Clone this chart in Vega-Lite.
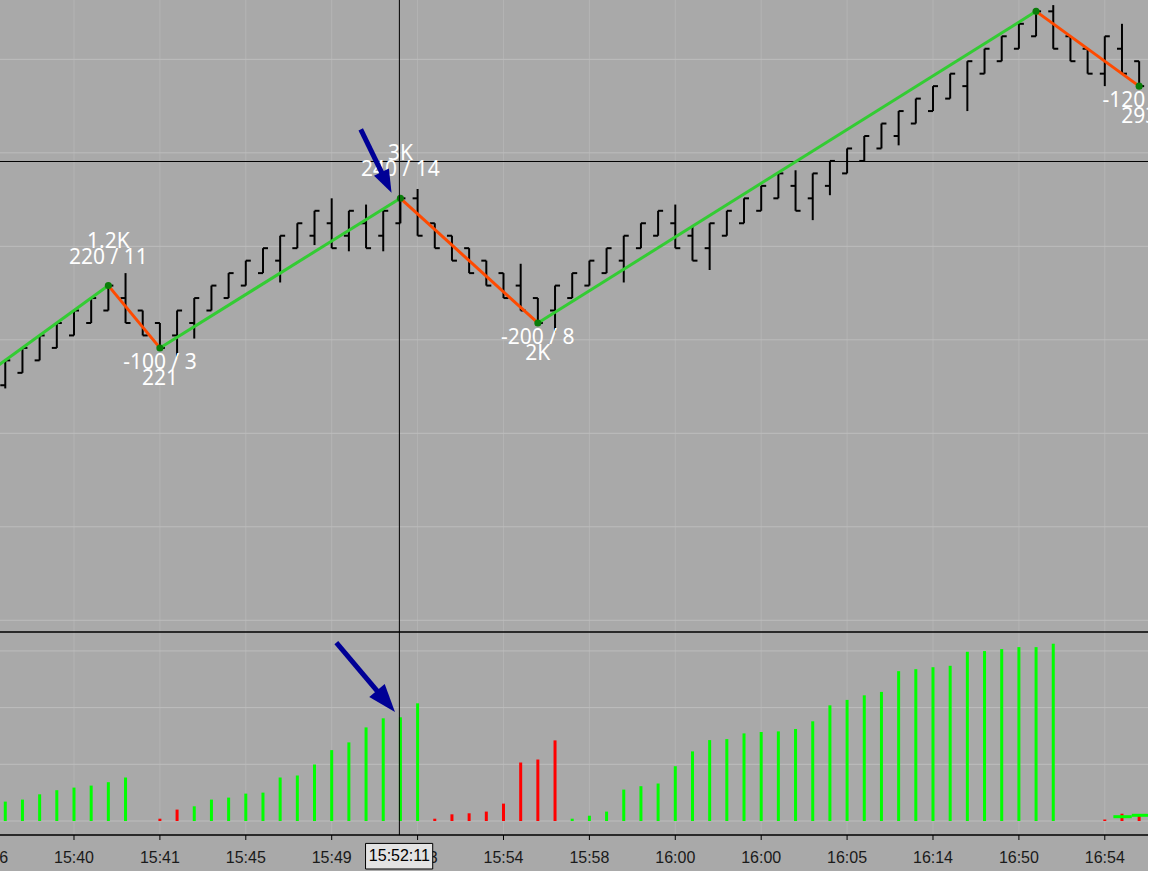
{
  "$schema": "https://vega.github.io/schema/vega-lite/v6.json",
  "width": 1148,
  "height": 835,
  "autosize": {"type": "none"},
  "padding": {"left": 0, "top": 0, "right": 0, "bottom": 36},
  "background": "#a9a9a9",
  "config": {
    "view": {"stroke": null},
    "font": "Liberation Sans"
  },
  "datasets": {
    "ohlc": [
      {"i": 0, "o": 380, "h": 420, "l": 375, "c": 420},
      {"i": 1, "o": 400, "h": 440, "l": 400, "c": 440},
      {"i": 2, "o": 420, "h": 460, "l": 420, "c": 460},
      {"i": 3, "o": 440, "h": 480, "l": 440, "c": 480},
      {"i": 4, "o": 460, "h": 500, "l": 460, "c": 500},
      {"i": 5, "o": 480, "h": 520, "l": 480, "c": 520},
      {"i": 6, "o": 500, "h": 540, "l": 500, "c": 540},
      {"i": 7, "o": 520, "h": 560, "l": 480, "c": 480},
      {"i": 8, "o": 500, "h": 500, "l": 460, "c": 460},
      {"i": 9, "o": 480, "h": 480, "l": 440, "c": 440},
      {"i": 10, "o": 460, "h": 500, "l": 425, "c": 500},
      {"i": 11, "o": 480, "h": 520, "l": 455, "c": 520},
      {"i": 12, "o": 500, "h": 540, "l": 500, "c": 540},
      {"i": 13, "o": 520, "h": 560, "l": 520, "c": 560},
      {"i": 14, "o": 540, "h": 580, "l": 540, "c": 580},
      {"i": 15, "o": 560, "h": 600, "l": 560, "c": 600},
      {"i": 16, "o": 580, "h": 620, "l": 545, "c": 620},
      {"i": 17, "o": 600, "h": 640, "l": 600, "c": 640},
      {"i": 18, "o": 620, "h": 660, "l": 605, "c": 660},
      {"i": 19, "o": 640, "h": 680, "l": 600, "c": 600},
      {"i": 20, "o": 620, "h": 660, "l": 595, "c": 660},
      {"i": 21, "o": 640, "h": 670, "l": 600, "c": 600},
      {"i": 22, "o": 620, "h": 660, "l": 595, "c": 660},
      {"i": 23, "o": 640, "h": 685, "l": 640, "c": 680},
      {"i": 24, "o": 680, "h": 695, "l": 620, "c": 620},
      {"i": 25, "o": 640, "h": 640, "l": 600, "c": 600},
      {"i": 26, "o": 620, "h": 620, "l": 580, "c": 580},
      {"i": 27, "o": 600, "h": 600, "l": 560, "c": 560},
      {"i": 28, "o": 580, "h": 580, "l": 540, "c": 540},
      {"i": 29, "o": 560, "h": 560, "l": 520, "c": 520},
      {"i": 30, "o": 540, "h": 575, "l": 500, "c": 500},
      {"i": 31, "o": 520, "h": 520, "l": 480, "c": 480},
      {"i": 32, "o": 500, "h": 540, "l": 465, "c": 540},
      {"i": 33, "o": 520, "h": 560, "l": 520, "c": 560},
      {"i": 34, "o": 540, "h": 580, "l": 540, "c": 580},
      {"i": 35, "o": 560, "h": 600, "l": 560, "c": 600},
      {"i": 36, "o": 580, "h": 620, "l": 545, "c": 620},
      {"i": 37, "o": 600, "h": 640, "l": 600, "c": 640},
      {"i": 38, "o": 620, "h": 660, "l": 620, "c": 660},
      {"i": 39, "o": 640, "h": 670, "l": 600, "c": 600},
      {"i": 40, "o": 620, "h": 635, "l": 580, "c": 580},
      {"i": 41, "o": 600, "h": 640, "l": 565, "c": 640},
      {"i": 42, "o": 620, "h": 660, "l": 620, "c": 660},
      {"i": 43, "o": 640, "h": 680, "l": 640, "c": 680},
      {"i": 44, "o": 660, "h": 700, "l": 660, "c": 700},
      {"i": 45, "o": 680, "h": 720, "l": 680, "c": 720},
      {"i": 46, "o": 700, "h": 725, "l": 660, "c": 660},
      {"i": 47, "o": 680, "h": 720, "l": 645, "c": 720},
      {"i": 48, "o": 700, "h": 740, "l": 685, "c": 740},
      {"i": 49, "o": 720, "h": 760, "l": 720, "c": 760},
      {"i": 50, "o": 740, "h": 780, "l": 740, "c": 780},
      {"i": 51, "o": 760, "h": 800, "l": 760, "c": 800},
      {"i": 52, "o": 780, "h": 820, "l": 765, "c": 820},
      {"i": 53, "o": 800, "h": 840, "l": 800, "c": 840},
      {"i": 54, "o": 820, "h": 860, "l": 820, "c": 860},
      {"i": 55, "o": 840, "h": 880, "l": 840, "c": 880},
      {"i": 56, "o": 860, "h": 900, "l": 820, "c": 900},
      {"i": 57, "o": 880, "h": 920, "l": 880, "c": 920},
      {"i": 58, "o": 900, "h": 940, "l": 900, "c": 940},
      {"i": 59, "o": 920, "h": 960, "l": 920, "c": 960},
      {"i": 60, "o": 940, "h": 980, "l": 940, "c": 980},
      {"i": 61, "o": 980, "h": 990, "l": 920, "c": 920},
      {"i": 62, "o": 940, "h": 940, "l": 900, "c": 900},
      {"i": 63, "o": 920, "h": 920, "l": 880, "c": 880},
      {"i": 64, "o": 880, "h": 940, "l": 860, "c": 940},
      {"i": 65, "o": 920, "h": 960, "l": 880, "c": 880},
      {"i": 66, "o": 900, "h": 900, "l": 860, "c": 860}
    ],
    "volume": [
      {"i": 0, "v": 513, "d": "up"}, {"i": 1, "v": 566, "d": "up"}, {"i": 2, "v": 706, "d": "up"},
      {"i": 3, "v": 815, "d": "up"}, {"i": 4, "v": 884, "d": "up"}, {"i": 5, "v": 937, "d": "up"},
      {"i": 6, "v": 1027, "d": "up"}, {"i": 7, "v": 1151, "d": "up"},
      {"i": 9, "v": 61, "d": "down"}, {"i": 10, "v": 302, "d": "down"},
      {"i": 11, "v": 389, "d": "up"}, {"i": 12, "v": 566, "d": "up"}, {"i": 13, "v": 619, "d": "up"},
      {"i": 14, "v": 725, "d": "up"}, {"i": 15, "v": 751, "d": "up"}, {"i": 16, "v": 1151, "d": "up"},
      {"i": 17, "v": 1204, "d": "up"}, {"i": 18, "v": 1495, "d": "up"}, {"i": 19, "v": 1876, "d": "up"},
      {"i": 20, "v": 2080, "d": "up"}, {"i": 21, "v": 2477, "d": "up"}, {"i": 22, "v": 2717, "d": "up"},
      {"i": 23, "v": 2744, "d": "up"}, {"i": 24, "v": 3114, "d": "up"},
      {"i": 25, "v": 61, "d": "down"}, {"i": 26, "v": 177, "d": "down"}, {"i": 27, "v": 204, "d": "down"},
      {"i": 28, "v": 249, "d": "down"}, {"i": 29, "v": 460, "d": "down"}, {"i": 30, "v": 1548, "d": "down"},
      {"i": 31, "v": 1627, "d": "down"}, {"i": 32, "v": 2133, "d": "down"},
      {"i": 33, "v": 61, "d": "up"}, {"i": 34, "v": 140, "d": "up"}, {"i": 35, "v": 249, "d": "up"},
      {"i": 36, "v": 831, "d": "up"}, {"i": 37, "v": 921, "d": "up"}, {"i": 38, "v": 992, "d": "up"},
      {"i": 39, "v": 1450, "d": "up"}, {"i": 40, "v": 1842, "d": "up"}, {"i": 41, "v": 2141, "d": "up"},
      {"i": 42, "v": 2167, "d": "up"}, {"i": 43, "v": 2318, "d": "up"}, {"i": 44, "v": 2355, "d": "up"},
      {"i": 45, "v": 2371, "d": "up"}, {"i": 46, "v": 2434, "d": "up"}, {"i": 47, "v": 2638, "d": "up"},
      {"i": 48, "v": 3061, "d": "up"}, {"i": 49, "v": 3204, "d": "up"}, {"i": 50, "v": 3326, "d": "up"},
      {"i": 51, "v": 3416, "d": "up"}, {"i": 52, "v": 3964, "d": "up"}, {"i": 53, "v": 4017, "d": "up"},
      {"i": 54, "v": 4070, "d": "up"}, {"i": 55, "v": 4107, "d": "up"}, {"i": 56, "v": 4477, "d": "up"},
      {"i": 57, "v": 4496, "d": "up"}, {"i": 58, "v": 4549, "d": "up"}, {"i": 59, "v": 4601, "d": "up"},
      {"i": 60, "v": 4601, "d": "up"}, {"i": 61, "v": 4691, "d": "up"},
      {"i": 64, "v": 40, "d": "down"}, {"i": 65, "v": 193, "d": "down"}, {"i": 66, "v": 185, "d": "down"}
    ],
    "volumeStep": [
      {"i": 64.5, "i2": 65.57, "v": 114},
      {"i": 65.57, "i2": 66.6, "v": 151}
    ],
    "zigzag": [
      {"i": -5, "p": 320, "i2": 6, "p2": 540, "d": "up"},
      {"i": 6, "p": 540, "i2": 9, "p2": 440, "d": "down"},
      {"i": 9, "p": 440, "i2": 23, "p2": 680, "d": "up"},
      {"i": 23, "p": 680, "i2": 31, "p2": 480, "d": "down"},
      {"i": 31, "p": 480, "i2": 60, "p2": 980, "d": "up"},
      {"i": 60, "p": 980, "i2": 66, "p2": 860, "d": "down"}
    ],
    "pivots": [
      {"i": 6, "p": 540, "kind": "high", "swing": "220 / 11", "vol": "1.2K"},
      {"i": 9, "p": 440, "kind": "low", "swing": "-100 / 3", "vol": "221"},
      {"i": 23, "p": 680, "kind": "high", "swing": "240 / 14", "vol": "3K"},
      {"i": 31, "p": 480, "kind": "low", "swing": "-200 / 8", "vol": "2K"},
      {"i": 60, "p": 980, "kind": "top"},
      {"i": 66, "p": 860, "kind": "low", "swing": "-120 / 6", "vol": "293"}
    ],
    "timeTicks": [
      {"i": -1, "t": "15:36"}, {"i": 4, "t": "15:40"}, {"i": 9, "t": "15:41"},
      {"i": 14, "t": "15:45"}, {"i": 19, "t": "15:49"}, {"i": 24, "t": "15:53"},
      {"i": 29, "t": "15:54"}, {"i": 34, "t": "15:58"}, {"i": 39, "t": "16:00"},
      {"i": 44, "t": "16:00"}, {"i": 49, "t": "16:05"}, {"i": 54, "t": "16:14"},
      {"i": 59, "t": "16:50"}, {"i": 64, "t": "16:54"}
    ],
    "priceGrid": [{"p": 3}, {"p": 153}, {"p": 303}, {"p": 453}, {"p": 603}, {"p": 753}, {"p": 903}],
    "volumeGrid": [{"v": 0}, {"v": 1500}, {"v": 3000}, {"v": 4500}],
    "arrowPrice": [{"i": 20.69, "p": 790.7, "i2": 22.19, "p2": 705.5}],
    "arrowVolume": [{"i": 19.27, "v": 4718, "i2": 22.16, "v2": 3167}],
    "crossPrice": [{"p": 739.1}],
    "paneEdge": [{"p": -15.8}],
    "crossTime": [{"i": 22.94}],
    "stamp": [{"i": 20.97, "i2": 24.88, "ic": 22.94, "v": -593, "v2": -1270, "vt": -930, "t": "15:52:11"}]
  },
  "layer": [
    {
      "layer": [
        {
          "data": {"name": "timeTicks"},
          "mark": {"type": "rule", "color": "#b4b4b4", "strokeWidth": 1},
          "encoding": {
            "x": {"field": "i", "type": "quantitative", "axis": null, "scale": {"domain": [-0.307, 66.515], "nice": false, "zero": false}}
          }
        },
        {
          "data": {"name": "priceGrid"},
          "mark": {"type": "rule", "color": "#bdbdbd", "strokeWidth": 1},
          "encoding": {
            "y": {"field": "p", "type": "quantitative", "axis": null, "scale": {"domain": [-341.5, 998.2], "nice": false, "zero": false}}
          }
        },
        {
          "data": {"name": "ohlc"},
          "mark": {"type": "rule", "color": "#000000", "strokeWidth": 2},
          "encoding": {
            "x": {"field": "i", "type": "quantitative", "axis": null},
            "y": {"field": "h", "type": "quantitative", "axis": null},
            "y2": {"field": "l"}
          }
        },
        {
          "data": {"name": "ohlc"},
          "mark": {"type": "tick", "orient": "horizontal", "color": "#000000", "size": 5, "thickness": 2, "xOffset": -2.5, "opacity": 1},
          "encoding": {
            "x": {"field": "i", "type": "quantitative", "axis": null},
            "y": {"field": "o", "type": "quantitative", "axis": null}
          }
        },
        {
          "data": {"name": "ohlc"},
          "mark": {"type": "tick", "orient": "horizontal", "color": "#000000", "size": 5, "thickness": 2, "xOffset": 2.5, "opacity": 1},
          "encoding": {
            "x": {"field": "i", "type": "quantitative", "axis": null},
            "y": {"field": "c", "type": "quantitative", "axis": null}
          }
        },
        {
          "data": {"name": "crossPrice"},
          "mark": {"type": "rule", "color": "#000000", "strokeWidth": 1},
          "encoding": {"y": {"field": "p", "type": "quantitative", "axis": null}}
        },
        {
          "data": {"name": "paneEdge"},
          "mark": {"type": "rule", "color": "#000000", "strokeWidth": 1.5},
          "encoding": {"y": {"field": "p", "type": "quantitative", "axis": null}}
        },
        {
          "data": {"name": "zigzag"},
          "mark": {"type": "rule", "strokeWidth": 3, "clip": true},
          "encoding": {
            "x": {"field": "i", "type": "quantitative", "axis": null},
            "x2": {"field": "i2"},
            "y": {"field": "p", "type": "quantitative", "axis": null},
            "y2": {"field": "p2"},
            "color": {
              "field": "d",
              "type": "nominal",
              "scale": {"domain": ["up", "down"], "range": ["#33cc33", "#ff4a00"]},
              "legend": null
            }
          }
        },
        {
          "data": {"name": "pivots"},
          "mark": {"type": "point", "filled": true, "color": "#0a7d0a", "size": 50, "opacity": 1, "clip": true},
          "encoding": {
            "x": {"field": "i", "type": "quantitative", "axis": null},
            "y": {"field": "p", "type": "quantitative", "axis": null}
          }
        },
        {
          "data": {"name": "pivots"},
          "transform": [{"filter": "datum.kind == 'high'"}],
          "mark": {"type": "text", "font": "Noto Sans", "fontSize": 21, "color": "#ffffff", "baseline": "middle", "dy": -28, "clip": true},
          "encoding": {
            "x": {"field": "i", "type": "quantitative", "axis": null},
            "y": {"field": "p", "type": "quantitative", "axis": null},
            "text": {"field": "swing"}
          }
        },
        {
          "data": {"name": "pivots"},
          "transform": [{"filter": "datum.kind == 'high'"}],
          "mark": {"type": "text", "font": "Noto Sans", "fontSize": 21, "color": "#ffffff", "baseline": "middle", "dy": -44, "clip": true},
          "encoding": {
            "x": {"field": "i", "type": "quantitative", "axis": null},
            "y": {"field": "p", "type": "quantitative", "axis": null},
            "text": {"field": "vol"}
          }
        },
        {
          "data": {"name": "pivots"},
          "transform": [{"filter": "datum.kind == 'low'"}],
          "mark": {"type": "text", "font": "Noto Sans", "fontSize": 21, "color": "#ffffff", "baseline": "middle", "dy": 15, "clip": true},
          "encoding": {
            "x": {"field": "i", "type": "quantitative", "axis": null},
            "y": {"field": "p", "type": "quantitative", "axis": null},
            "text": {"field": "swing"}
          }
        },
        {
          "data": {"name": "pivots"},
          "transform": [{"filter": "datum.kind == 'low'"}],
          "mark": {"type": "text", "font": "Noto Sans", "fontSize": 21, "color": "#ffffff", "baseline": "middle", "dy": 31, "clip": true},
          "encoding": {
            "x": {"field": "i", "type": "quantitative", "axis": null},
            "y": {"field": "p", "type": "quantitative", "axis": null},
            "text": {"field": "vol"}
          }
        },
        {
          "data": {"name": "arrowPrice"},
          "mark": {"type": "rule", "color": "#000096", "strokeWidth": 5},
          "encoding": {
            "x": {"field": "i", "type": "quantitative", "axis": null},
            "x2": {"field": "i2"},
            "y": {"field": "p", "type": "quantitative", "axis": null},
            "y2": {"field": "p2"}
          }
        },
        {
          "data": {"name": "arrowPrice"},
          "mark": {"type": "point", "shape": "M-0.72,-1L0.72,-1L0,1Z", "filled": true, "color": "#000096", "opacity": 1, "size": 529, "angle": -26},
          "encoding": {
            "x": {"field": "i2", "type": "quantitative", "axis": null},
            "y": {"field": "p2", "type": "quantitative", "axis": null}
          }
        }
      ]
    },
    {
      "layer": [
        {
          "data": {"name": "volumeGrid"},
          "mark": {"type": "rule", "color": "#bdbdbd", "strokeWidth": 1},
          "encoding": {
            "y": {"field": "v", "type": "quantitative", "axis": null, "scale": {"domain": [-370.4, 21723.7], "nice": false, "zero": false}}
          }
        },
        {
          "data": {"name": "volume"},
          "mark": {"type": "rule", "strokeWidth": 3},
          "encoding": {
            "x": {"field": "i", "type": "quantitative", "axis": null},
            "y": {"field": "v", "type": "quantitative", "axis": null},
            "y2": {"datum": 0},
            "color": {
              "field": "d",
              "type": "nominal",
              "scale": {"domain": ["up", "down"], "range": ["#00ff00", "#ff0000"]},
              "legend": null
            }
          }
        },
        {
          "data": {"name": "volumeStep"},
          "mark": {"type": "rule", "color": "#00ff00", "strokeWidth": 3, "clip": true},
          "encoding": {
            "x": {"field": "i", "type": "quantitative", "axis": null},
            "x2": {"field": "i2"},
            "y": {"field": "v", "type": "quantitative", "axis": null}
          }
        },
        {
          "data": {"name": "arrowVolume"},
          "mark": {"type": "rule", "color": "#000096", "strokeWidth": 5},
          "encoding": {
            "x": {"field": "i", "type": "quantitative", "axis": null},
            "x2": {"field": "i2"},
            "y": {"field": "v", "type": "quantitative", "axis": null},
            "y2": {"field": "v2"}
          }
        },
        {
          "data": {"name": "arrowVolume"},
          "mark": {"type": "point", "shape": "M-0.72,-1L0.72,-1L0,1Z", "filled": true, "color": "#000096", "opacity": 1, "size": 784, "angle": -40},
          "encoding": {
            "x": {"field": "i2", "type": "quantitative", "axis": null},
            "y": {"field": "v2", "type": "quantitative", "axis": null}
          }
        },
        {
          "data": {"name": "crossTime"},
          "mark": {"type": "rule", "color": "#000000", "strokeWidth": 1},
          "encoding": {"x": {"field": "i", "type": "quantitative", "axis": null}}
        },
        {
          "data": {"name": "volumeGrid"},
          "transform": [{"filter": "datum.v == 0"}],
          "mark": {"type": "rule", "color": "#000000", "strokeWidth": 1.5},
          "encoding": {"y": {"datum": -370.4, "axis": null}}
        },
        {
          "data": {"name": "timeTicks"},
          "mark": {"type": "rule", "color": "#000000", "strokeWidth": 1},
          "encoding": {
            "x": {"field": "i", "type": "quantitative", "axis": null},
            "y": {"datum": -370.4, "axis": null},
            "y2": {"datum": -503}
          }
        },
        {
          "data": {"name": "timeTicks"},
          "mark": {"type": "text", "font": "Liberation Sans", "fontSize": 16, "color": "#1a1a1a", "baseline": "middle"},
          "encoding": {
            "x": {"field": "i", "type": "quantitative", "axis": null},
            "y": {"datum": -966, "axis": null},
            "text": {"field": "t"}
          }
        },
        {
          "data": {"name": "stamp"},
          "mark": {"type": "rect", "fill": "#e3e3e3", "stroke": "#000000", "strokeWidth": 1},
          "encoding": {
            "x": {"field": "i", "type": "quantitative", "axis": null},
            "x2": {"field": "i2"},
            "y": {"field": "v", "type": "quantitative", "axis": null},
            "y2": {"field": "v2"}
          }
        },
        {
          "data": {"name": "stamp"},
          "mark": {"type": "text", "font": "Liberation Sans", "fontSize": 16, "color": "#000000", "baseline": "middle"},
          "encoding": {
            "x": {"field": "ic", "type": "quantitative", "axis": null},
            "y": {"field": "vt", "type": "quantitative", "axis": null},
            "text": {"field": "t"}
          }
        }
      ]
    }
  ],
  "resolve": {"scale": {"y": "independent", "color": "independent"}}
}
